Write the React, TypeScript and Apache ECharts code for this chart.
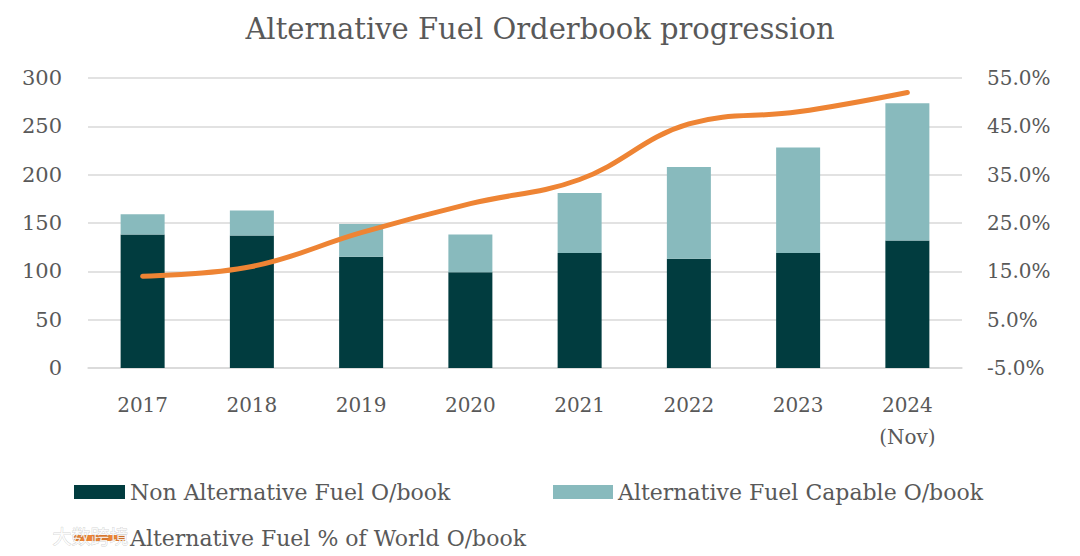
import React, { useEffect, useRef } from "react";
import * as echarts from "echarts";

const categories = ["2017", "2018", "2019", "2020", "2021", "2022", "2023", "2024\n(Nov)"];
const nonAltFuel = [138, 137, 115, 99, 119, 113, 119, 132];
const altFuelCapable = [21, 26, 34, 39, 62, 95, 109, 142];
const altFuelPct = [14.0, 16.0, 23.0, 29.0, 34.0, 45.5, 48.0, 52.0];
const leftTicks = { min: 0, max: 300, interval: 50 };
const rightTicks = { min: -5, max: 55, interval: 10 };

const FONT = "DejaVu Serif";
const TEXT = "#595959";

export default function App() {
  const ref = useRef<HTMLDivElement>(null);
  useEffect(() => {
    document.body.style.margin = "0";
    if (!ref.current) return;
    const chart = echarts.init(ref.current, null, { renderer: "svg" });
    const legendText = { color: TEXT, fontFamily: FONT, fontSize: 22 };
    chart.setOption({
      animation: false,
      backgroundColor: "#ffffff",
      title: {
        text: "Alternative Fuel Orderbook progression",
        left: "center",
        top: 9,
        textStyle: { color: TEXT, fontFamily: FONT, fontSize: 29, fontWeight: "normal" },
      },
      grid: { left: 88, right: 118, top: 78, bottom: 188, containLabel: false },
      legend: [
        {
          data: ["Non Alternative Fuel O/book"],
          left: 69, top: 476, itemWidth: 51, itemHeight: 14,
          icon: "rect", textStyle: legendText,
        },
        {
          data: ["Alternative Fuel Capable O/book"],
          left: 548, top: 476, itemWidth: 60, itemHeight: 14,
          icon: "rect", textStyle: legendText,
        },
        {
          data: ["Alternative Fuel % of World O/book"],
          left: 69, top: 522, itemWidth: 51, itemHeight: 6,
          icon: "roundRect", textStyle: legendText,
        },
      ],
      xAxis: {
        type: "category",
        data: categories,
        axisLine: { show: true, lineStyle: { color: "#d9d9d9", width: 1.5 } },
        axisTick: { show: false },
        axisLabel: { color: TEXT, fontFamily: FONT, fontSize: 20, margin: 21, lineHeight: 32 },
      },
      yAxis: [
        {
          type: "value",
          ...leftTicks,
          axisLine: { show: false },
          axisTick: { show: false },
          splitLine: { lineStyle: { color: "#d9d9d9", width: 1.5 } },
          axisLabel: { color: TEXT, fontFamily: FONT, fontSize: 21, margin: 26 },
        },
        {
          type: "value",
          ...rightTicks,
          axisLine: { show: false },
          axisTick: { show: false },
          splitLine: { show: false },
          axisLabel: {
            color: TEXT, fontFamily: FONT, fontSize: 20, margin: 25,
            formatter: (v: number) => v.toFixed(1) + "%",
          },
        },
      ],
      series: [
        {
          name: "Non Alternative Fuel O/book",
          type: "bar",
          stack: "ob",
          data: nonAltFuel,
          barWidth: 44,
          itemStyle: { color: "#013c3f" },
        },
        {
          name: "Alternative Fuel Capable O/book",
          type: "bar",
          stack: "ob",
          data: altFuelCapable,
          barWidth: 44,
          itemStyle: { color: "#88babd" },
        },
        {
          name: "Alternative Fuel % of World O/book",
          type: "line",
          yAxisIndex: 1,
          data: altFuelPct,
          smooth: 0.4,
          showSymbol: false,
          symbol: "none",
          lineStyle: { color: "#ee8434", width: 5, cap: "round" },
          itemStyle: { color: "#ee8434" },
        },
      ],
      graphic: [
        {
          type: "text",
          left: 52,
          top: 525,
          z: 100,
          style: {
            text: "大数跨境",
            fontFamily: "Noto Sans CJK SC",
            fontSize: 19,
            fill: "rgba(255,255,255,0.85)",
            stroke: "rgba(0,0,0,0.18)",
            lineWidth: 1,
          },
        },
      ],
    });
    return () => chart.dispose();
  }, []);
  return <div ref={ref} style={{ width: 1080, height: 556 }} />;
}
